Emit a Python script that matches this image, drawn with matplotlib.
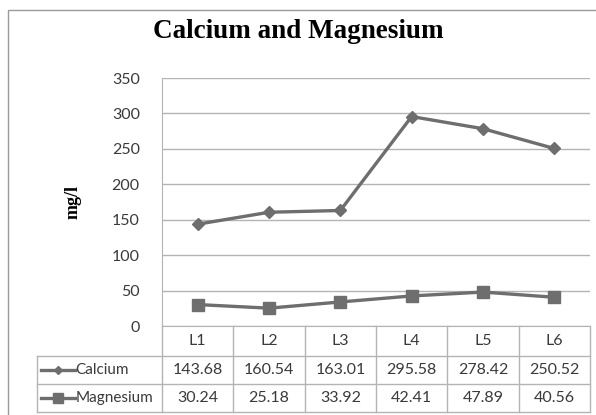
import numpy as np
import matplotlib.pyplot as plt
import matplotlib.transforms as mtrans
from matplotlib.patches import Rectangle

sites = ["L1", "L2", "L3", "L4", "L5", "L6"]
calcium = [143.68, 160.54, 163.01, 295.58, 278.42, 250.52]
magnesium = [30.24, 25.18, 33.92, 42.41, 47.89, 40.56]
series = [("Calcium", calcium, "D", 6), ("Magnesium", magnesium, "s", 9)]

line_col = "#6e6e6e"
grid_col = "#b4b4b4"
txt_col = "#3a3a3a"
sans = "Lato"

fig = plt.figure(figsize=(5.96, 4.15), dpi=100)
ax = fig.add_axes([162 / 596, 1 - 326 / 415, 428 / 596, 248 / 415])

x = np.arange(len(sites))
for name, vals, mk, ms in series:
    ax.plot(x, vals, color=line_col, lw=2.4, marker=mk, ms=ms, zorder=3)

ax.set_xlim(-0.5, len(sites) - 0.5)
ax.set_ylim(0, 350)
ax.set_yticks(range(0, 351, 50))
ax.set_xticks([])
ax.grid(axis="y", color=grid_col, lw=1)
for s in ["top", "right"]:
    ax.spines[s].set_visible(False)
ax.spines["left"].set_color(grid_col)
ax.spines["bottom"].set_color(grid_col)
ax.tick_params(axis="y", length=0, pad=16, labelsize=11.5, labelcolor=txt_col)
for lab in ax.get_yticklabels():
    lab.set_fontfamily(sans)

ax.set_ylabel("mg/l", family="Liberation Serif", weight="bold", fontsize=13,
              labelpad=22)

fig.suptitle("Calcium and Magnesium", family="Liberation Serif", weight="bold",
             fontsize=19.5, y=1 - 32 / 415, va="center")

# data table below the axis
trans = mtrans.blended_transform_factory(ax.transData, ax.transAxes)
y_rows = [0, -0.121, -0.234, -0.347]
x_lab = -0.292
kw = dict(color=grid_col, lw=1, clip_on=False)
# vertical separators
for b in np.arange(len(sites) + 1) - 0.5:
    ax.plot([b, b], [y_rows[0], y_rows[-1]], transform=trans, **kw)
# horizontal lines
for yy in y_rows[1:]:
    ax.plot([x_lab, 1], [yy, yy], transform=ax.transAxes, **kw)
ax.plot([x_lab, x_lab], [y_rows[1], y_rows[-1]], transform=ax.transAxes, **kw)

tfont = dict(family=sans, fontsize=11.5, color=txt_col,
             ha="center", va="center")
for i, s in enumerate(sites):
    ax.text(i, (y_rows[0] + y_rows[1]) / 2, s, transform=trans, **tfont)
for r, (name, vals, mk, ms) in enumerate(series):
    yc = (y_rows[r + 1] + y_rows[r + 2]) / 2
    for i, v in enumerate(vals):
        ax.text(i, yc, f"{v:.2f}", transform=trans, **tfont)
    ax.plot([x_lab + 0.009, x_lab + 0.089], [yc, yc], transform=ax.transAxes,
            color=line_col, lw=2.4, clip_on=False)
    ax.plot([x_lab + 0.049], [yc], transform=ax.transAxes, marker=mk,
            ms=ms * 0.75, color=line_col, clip_on=False)
    ax.text(x_lab + 0.090, yc, name, transform=ax.transAxes,
            family=sans, fontsize=11, color=txt_col, ha="left", va="center")

# outer chart border
fig.patches.append(Rectangle((8 / 596, -0.1), 1.2, 1 - 10 / 415 + 0.1,
                             transform=fig.transFigure, fill=False,
                             edgecolor="#9a9a9a", lw=1))

fig.savefig("out.png", dpi=100)
